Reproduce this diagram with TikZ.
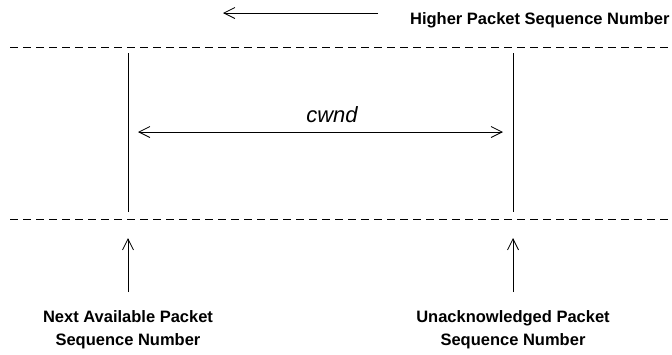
\documentclass[tikz,border=0pt]{standalone}
\usepackage{fontspec}
\setmainfont{Liberation Sans}
\usetikzlibrary{arrows.meta, positioning}

\begin{document}
\begin{tikzpicture}[x=1pt, y=-1pt, line width=0.8pt,
  lbl/.style={font=\bfseries\fontsize{16.5}{23}\selectfont, align=center, inner sep=0pt},
  sep/.style={dash pattern=on 8pt off 5pt},
  tip/.style={-{Straight Barb[length=11pt,width=11pt,line width=0.8pt]}},
  both/.style={{Straight Barb[length=11pt,width=11pt,line width=0.8pt]}-{Straight Barb[length=11pt,width=11pt,line width=0.8pt]}}]

  \useasboundingbox (0,0) rectangle (672,354);

  % direction of higher sequence numbers
  \node[lbl, anchor=east] (higher) at (670,20) {Higher Packet Sequence Number};
  \coordinate (hstart) at (378,13);
  \coordinate (hend)   at (223,13);
  \draw[tip] (hstart) -- (hend);

  % dashed bounds of the sequence space
  \coordinate (topL) at (10,47);
  \coordinate (topR) at (672,47);
  \coordinate (botL) at (10,219);
  \coordinate (botR) at (672,219);
  \draw[sep] (topL) -- (topR);
  \draw[sep] (botL) -- (botR);

  % window edges
  \coordinate (nextT)  at (128,53);
  \coordinate (nextB)  at (128,212);
  \coordinate (unackT) at (513,53);
  \coordinate (unackB) at (513,212);
  \draw (nextT) -- (nextB);
  \draw (unackT) -- (unackB);

  % window size
  \coordinate (wL) at (138,132);
  \coordinate (wR) at (503,132);
  \draw[both] (wL) -- (wR);
  \node[font=\itshape\fontsize{22}{26}\selectfont, inner sep=0pt] (cwnd) at (332,115) {cwnd};

  % pointers to the window edges
  \node[lbl] (nextlbl)  at (128,329.5) {Next Available Packet\\Sequence Number};
  \node[lbl] (unacklbl) at (513,329.5) {Unacknowledged Packet\\Sequence Number};
  \coordinate (nextA)  at (128,292);
  \coordinate (nextP)  at (128,238);
  \coordinate (unackA) at (513,292);
  \coordinate (unackP) at (513,238);
  \draw[tip] (nextA) -- (nextP);
  \draw[tip] (unackA) -- (unackP);
\end{tikzpicture}
\end{document}
